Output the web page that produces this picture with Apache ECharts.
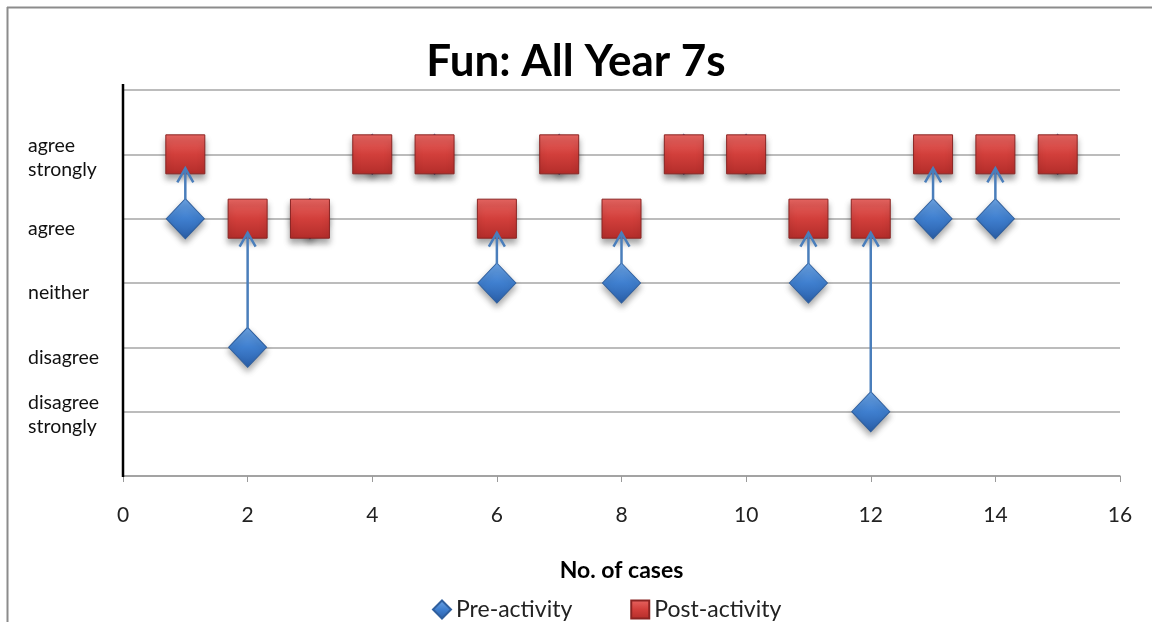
<!DOCTYPE html>
<html>
<head>
<meta charset="utf-8">
<script src="https://cdn.jsdelivr.net/npm/echarts@6/dist/echarts.min.js"></script>
<style>html,body{margin:0;padding:0;background:#fff}#c{width:1152px;height:622px}</style>
</head>
<body>
<div id="c"></div>
<script>
// Data
const cases = [1, 2, 3, 4, 5, 6, 7, 8, 9, 10, 11, 12, 13, 14, 15];
const preActivity = [4, 2, 4, 5, 5, 3, 5, 3, 5, 5, 3, 1, 4, 4, 5];
const postActivity = [5, 4, 4, 5, 5, 4, 5, 4, 5, 5, 4, 4, 5, 5, 5];
const levelLabels = ['', 'disagree\nstrongly', 'disagree', 'neither', 'agree', 'agree\nstrongly', ''];
const xTicks = [0, 2, 4, 6, 8, 10, 12, 14, 16];

const FONT = 'Lato, "Open Sans", sans-serif';
const preData = cases.map((c, i) => [c, preActivity[i]]);
const postData = cases.map((c, i) => [c, postActivity[i]]);
const arrowData = cases.map((c, i) => [c, preActivity[i], postActivity[i]]).filter(d => d[1] !== d[2]);

const chart = echarts.init(document.getElementById('c'), null, {renderer: 'canvas'});
const blue = '#4a7ebb';
chart.setOption({
  animation: false,
  backgroundColor: '#fff',
  title: {
    text: 'Fun: All Year 7s', left: 'center', top: 35,
    textStyle: {fontFamily: FONT, fontSize: 44, fontWeight: 'bold', color: '#000'}
  },
  graphic: [
    {type: 'line', shape: {x1: 7, y1: 7.5, x2: 1152, y2: 7.5}, style: {stroke: '#8c8c8c', lineWidth: 2}, silent: true},
    {type: 'line', shape: {x1: 7.5, y1: 7, x2: 7.5, y2: 622}, style: {stroke: '#8c8c8c', lineWidth: 2}, silent: true},
    {type: 'line', shape: {x1: 123, y1: 84, x2: 123, y2: 477}, style: {stroke: '#000', lineWidth: 2.5}, silent: true, z: 10}
  ],
  legend: {
    top: 593, left: 427, itemWidth: 18, itemHeight: 18, itemGap: 58,
    textStyle: {fontFamily: FONT, fontSize: 23, color: '#222'},
    data: [
      {name: 'Pre-activity', icon: 'diamond'},
      {name: 'Post-activity', icon: 'rect'}
    ]
  },
  grid: {left: 123, right: 32, top: 90, bottom: 146, containLabel: false},
  xAxis: {
    type: 'value', min: 0, max: 16, interval: 2,
    name: 'No. of cases', nameLocation: 'middle', nameGap: 83,
    nameTextStyle: {fontFamily: FONT, fontSize: 23, fontWeight: 'bold', color: '#000'},
    axisLine: {show: true, onZero: false, lineStyle: {color: '#9a9a9a', width: 1.5}},
    axisTick: {show: true, length: 6, lineStyle: {color: '#9a9a9a'}},
    axisLabel: {margin: 29, fontFamily: FONT, fontSize: 21, color: '#222',
      formatter: v => xTicks.includes(v) ? String(v) : ''},
    splitLine: {show: false}
  },
  yAxis: {
    type: 'value', min: 0, max: 6, interval: 1,
    axisLine: {show: false},
    axisTick: {show: false},
    axisLabel: {
      margin: 95, align: 'left', fontFamily: FONT, fontSize: 19, color: '#111', lineHeight: 24,
      formatter: v => {
        const t = levelLabels[v] || '';
        if (!t) return '';
        return t.indexOf('\n') >= 0 ? '{two|' + t + '}' : '{one|' + t + '}';
      },
      rich: {
        one: {fontFamily: FONT, fontSize: 19.5, color: '#111', lineHeight: 24, padding: [20, 0, 0, 0]},
        two: {fontFamily: FONT, fontSize: 19.5, color: '#111', lineHeight: 24, padding: [6, 0, 0, 0]}
      }
    },
    splitLine: {show: true, lineStyle: {color: '#a6a6a6', width: 1.5}}
  },
  series: [
    {
      name: 'Pre-activity', type: 'scatter', data: preData, z: 2,
      symbol: 'diamond', symbolSize: [38, 40],
      itemStyle: {
        opacity: 1,
        color: new echarts.graphic.LinearGradient(0, 0, 0, 1, [
          {offset: 0, color: '#6ea6e6'}, {offset: 0.5, color: '#3f7fcf'}, {offset: 1, color: '#2a5ea8'}
        ]),
        borderColor: '#2f5f9e', borderWidth: 1,
        shadowBlur: 6, shadowOffsetY: 4, shadowColor: 'rgba(0,0,0,0.35)'
      }
    },
    {
      name: 'Post-activity', type: 'scatter', data: postData, z: 3,
      symbol: 'rect', symbolSize: 39,
      itemStyle: {
        opacity: 1,
        color: new echarts.graphic.LinearGradient(0, 0, 0, 1, [
          {offset: 0, color: '#e86662'}, {offset: 0.5, color: '#d23f3b'}, {offset: 1, color: '#b32d2a'}
        ]),
        borderColor: '#8a2422', borderWidth: 1,
        shadowBlur: 6, shadowOffsetY: 5, shadowColor: 'rgba(0,0,0,0.35)'
      }
    },
    {
      name: 'arrows', type: 'custom', data: arrowData, z: 5, silent: true,
      encode: {x: 0, y: [1, 2]},
      renderItem: function (params, api) {
        const p0 = api.coord([api.value(0), api.value(1)]);
        const p1 = api.coord([api.value(0), api.value(2)]);
        const x = p0[0];
        const startY = p0[1] - 19;
        const tipY = p1[1] + 14;
        return {
          type: 'group',
          children: [
            {type: 'line', shape: {x1: x, y1: startY, x2: x, y2: tipY}, style: {stroke: blue, lineWidth: 2.5}},
            {type: 'polyline', shape: {points: [[x - 8, tipY + 14], [x, tipY], [x + 8, tipY + 14]]},
              style: {stroke: blue, lineWidth: 2.5, fill: null}}
          ]
        };
      }
    }
  ]
});
</script>
</body>
</html>
